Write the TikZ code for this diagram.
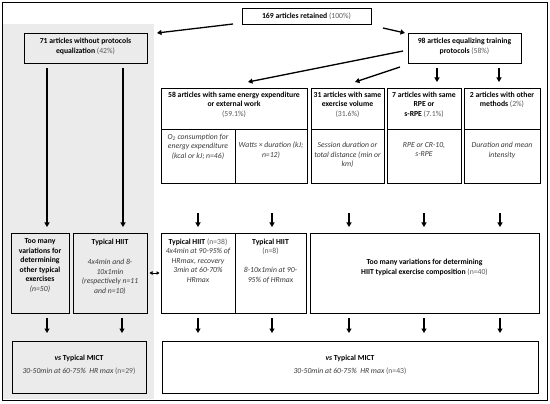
\documentclass[tikz,border=0pt]{standalone}
\usepackage{fontspec}
\setmainfont{Carlito}
\usetikzlibrary{arrows.meta}
\definecolor{panel}{HTML}{EBEBEB}
\definecolor{pgray}{HTML}{5A5A5A}
\definecolor{itgray}{HTML}{3A3A3A}
\newcommand{\gp}[1]{{\color{pgray}\mdseries\upshape #1}}
\newcommand{\ii}[1]{{\color{itgray}\mdseries\itshape #1}}
\begin{document}
\begin{tikzpicture}[x=1pt,y=-1pt,
  box/.style={draw=black, line width=0.8pt, inner sep=0pt, outer sep=0pt},
  gbox/.style={box, fill=panel},
  txt/.style={inner sep=0pt, align=center, font=\fontsize{7.7}{9.5}\selectfont},
  btxt/.style={txt, font=\fontsize{7.7}{9.5}\selectfont\bfseries},
  arr/.style={line width=1.3pt, -{Triangle[length=4.5pt,width=5pt]}},
  darr/.style={line width=0.7pt, {Triangle[length=3pt,width=3.5pt]}-{Triangle[length=3pt,width=3.5pt]}}]
\useasboundingbox (0,0) rectangle (550,404);
\fill[white] (0,0) rectangle (550,404);
% grey panel
\fill[panel] (3,24) rectangle (154,398.5);
\draw[line width=1.4pt] (2.7,2.7) rectangle (547.3,400.3);

% column coordinates
\coordinate (c1) at (47,0);
\coordinate (c2) at (123,0);
\coordinate (c2b) at (122,0);
\coordinate (c3) at (198,0);
\coordinate (c4) at (272,0);
\coordinate (c5) at (349,0);
\coordinate (c6) at (424,0);
\coordinate (c7) at (500,0);
\coordinate (d1) at (437,0);
\coordinate (d2) at (499,0);

% row 1
\node[box, minimum width=129pt, minimum height=16pt] (top) at (306.5,16) {};
\node[btxt] (toptxt) at (top) {169 articles retained \gp{(100\%)}};
\node[gbox, minimum width=123pt, minimum height=30pt] (left71) at (85.5,48) {};
\node[btxt] (left71txt) at (85.5,46.5) {71 articles without protocols\\ equalization \gp{(42\%)}};
\node[box, minimum width=113pt, minimum height=30pt] (right98) at (464.5,48) {};
\node[btxt] (right98txt) at (464.5,46.5) {98 articles equalizing training\\ protocols \gp{(58\%)}};

% row 2 headers
\node[box, minimum width=146pt, minimum height=41pt] (h58) at (234,108.5) {};
\node[btxt, anchor=north] (h58txt) at (234,91.5) {58 articles with same energy expenditure\\ or external work\\ \gp{(59.1\%)}};
\node[box, minimum width=73pt, minimum height=41pt] (h31) at (347.5,108.5) {};
\node[btxt, anchor=north] (h31txt) at (347.5,91.5) {31 articles with same\\ exercise volume\\ \gp{(31.6\%)}};
\node[box, minimum width=74pt, minimum height=41pt] (h7) at (424,108.5) {};
\node[btxt, anchor=north] (h7txt) at (424,91.5) {7 articles with same\\ RPE or\\ s-RPE \gp{(7.1\%)}};
\node[box, minimum width=76pt, minimum height=41pt] (h2) at (502,108.5) {};
\node[btxt, anchor=north] (h2txt) at (502,91.5) {2 articles with other\\ methods \gp{(2\%)}};

% row 2 bodies
\node[box, minimum width=74pt, minimum height=54pt] (b58a) at (198,156) {};
\node[txt, anchor=north] (b58atxt) at (198,133.5) {\ii{O\textsubscript{2} consumption for}\\ \ii{energy expenditure}\\ \ii{(kcal or kJ; n=46)}};
\node[box, minimum width=72pt, minimum height=54pt] (b58b) at (271,156) {};
\node[txt, anchor=north] (b58btxt) at (271,142) {\ii{Watts × duration (kJ;}\\ \ii{n=12)}};
\node[box, minimum width=73pt, minimum height=54pt] (b31) at (347.5,156) {};
\node[txt, anchor=north] (b31txt) at (347.5,142) {\ii{Session duration or}\\ \ii{total distance (min or}\\ \ii{km)}};
\node[box, minimum width=74pt, minimum height=54pt] (b7) at (424,156) {};
\node[txt, anchor=north] (b7txt) at (424,142) {\ii{RPE or CR-10,}\\ \ii{s-RPE}};
\node[box, minimum width=76pt, minimum height=54pt] (b2) at (502,156) {};
\node[txt, anchor=north] (b2txt) at (502,142) {\ii{Duration and mean}\\ \ii{intensity}};

% row 3
\node[gbox, minimum width=58pt, minimum height=80pt] (tooMany) at (40,273) {};
\node[btxt, anchor=north] (tooManytxt) at (40,238.5) {Too many\\ variations for\\ determining\\ other typical\\ exercises\\ \ii{(n=50)}};
\node[gbox, minimum width=74pt, minimum height=80pt] (typHIIT) at (110,273) {};
\node[btxt, anchor=north] (typHIITtxt) at (110,238.5) {Typical HIIT\\[11pt] \ii{4x4min and 8-}\\ \ii{10x1min}\\ \ii{(respectively n=11}\\ \ii{and n=10)}};
\node[box, minimum width=74pt, minimum height=80pt] (hiit38) at (198,273) {};
\node[btxt, anchor=north] (hiit38txt) at (198,238.5) {Typical HIIT \gp{(n=38)}\\ \ii{4x4min at 90-95\% of}\\ \ii{HRmax, recovery}\\ \ii{3min at 60-70\%}\\ \ii{HRmax}};
\node[box, minimum width=71pt, minimum height=80pt] (hiit8) at (270.5,273) {};
\node[btxt, anchor=north] (hiit8txt) at (270.5,238.5) {Typical HIIT\\ \gp{(n=8)}\\[9.5pt] \ii{8-10x1min at 90-}\\ \ii{95\% of HRmax}};
\node[box, minimum width=229pt, minimum height=80pt] (tmHIIT) at (424.5,273) {};
\node[btxt] (tmHIITtxt) at (424.5,267.5) {Too many variations for determining\\ HIIT typical exercise composition \gp{(n=40)}};

% row 4
\node[gbox, minimum width=134pt, minimum height=52pt] (micL) at (79,367) {};
\node[btxt] (micLtxt) at (79,364.5) {\textit{vs} Typical MICT\\[3.5pt] \ii{30-50min at 60-75\%\ \ HR max} \gp{(n=29)}};
\node[box, minimum width=376pt, minimum height=52pt] (micR) at (350,367) {};
\node[btxt] (micRtxt) at (350,364.5) {\textit{vs} Typical MICT\\[3.5pt] \ii{30-50min at 60-75\%\ \ HR max} \gp{(n=43)}};

% arrows row 1
\draw[arr] ([xshift=-9pt]top.south west) -- ([xshift=10pt]left71.north east);
\draw[arr] ([xshift=12pt,yshift=-4pt]top.south east) -- ([xshift=-3pt]right98.north west);
\draw[arr] ([xshift=-5pt,yshift=-3pt]right98.west) -- ([xshift=14pt,yshift=6pt]h58.north);
\draw[arr] ([xshift=-8pt,yshift=-4pt]right98.south west) -- ([xshift=7.5pt,yshift=6pt]h31.north);
\draw[arr, shorten <=5pt, shorten >=6pt] (d1 |- right98.south) -- (d1 |- h7.north);
\draw[arr, shorten <=5pt, shorten >=6pt] (d2 |- right98.south) -- (d2 |- h2.north);

% long arrows in the grey panel
\draw[arr, shorten <=5pt, shorten >=6pt] (c1 |- left71.south) -- (c1 |- tooMany.north);
\draw[arr, shorten <=5pt, shorten >=6pt] (c2 |- left71.south) -- (c2 |- typHIIT.north);

% arrows row 2 -> row 3
\draw[arr, shorten <=30pt, shorten >=6pt] (c3 |- b58a.south) -- (c3 |- hiit38.north);
\draw[arr, shorten <=30pt, shorten >=6pt] (c4 |- b58b.south) -- (c4 |- hiit8.north);
\draw[arr, shorten <=30pt, shorten >=6pt] (c5 |- b31.south) -- (c5 |- tmHIIT.north);
\draw[arr, shorten <=30pt, shorten >=6pt] (c6 |- b7.south) -- (c6 |- tmHIIT.north);
\draw[arr, shorten <=30pt, shorten >=6pt] (c7 |- b2.south) -- (c7 |- tmHIIT.north);

% double arrow
\draw[darr, shorten <=2.5pt, shorten >=1.5pt] (typHIIT.east) -- (hiit38.west);

% arrows row 3 -> row 4
\draw[arr, shorten <=5pt, shorten >=8pt] (c1 |- tooMany.south) -- (c1 |- micL.north);
\draw[arr, shorten <=5pt, shorten >=8pt] (c2b |- typHIIT.south) -- (c2b |- micL.north);
\draw[arr, shorten <=5pt, shorten >=8pt] (c3 |- hiit38.south) -- (c3 |- micR.north);
\draw[arr, shorten <=5pt, shorten >=8pt] (c4 |- hiit8.south) -- (c4 |- micR.north);
\draw[arr, shorten <=5pt, shorten >=8pt] (c5 |- tmHIIT.south) -- (c5 |- micR.north);
\draw[arr, shorten <=5pt, shorten >=8pt] (c6 |- tmHIIT.south) -- (c6 |- micR.north);
\draw[arr, shorten <=5pt, shorten >=8pt] (c7 |- tmHIIT.south) -- (c7 |- micR.north);
\end{tikzpicture}
\end{document}
